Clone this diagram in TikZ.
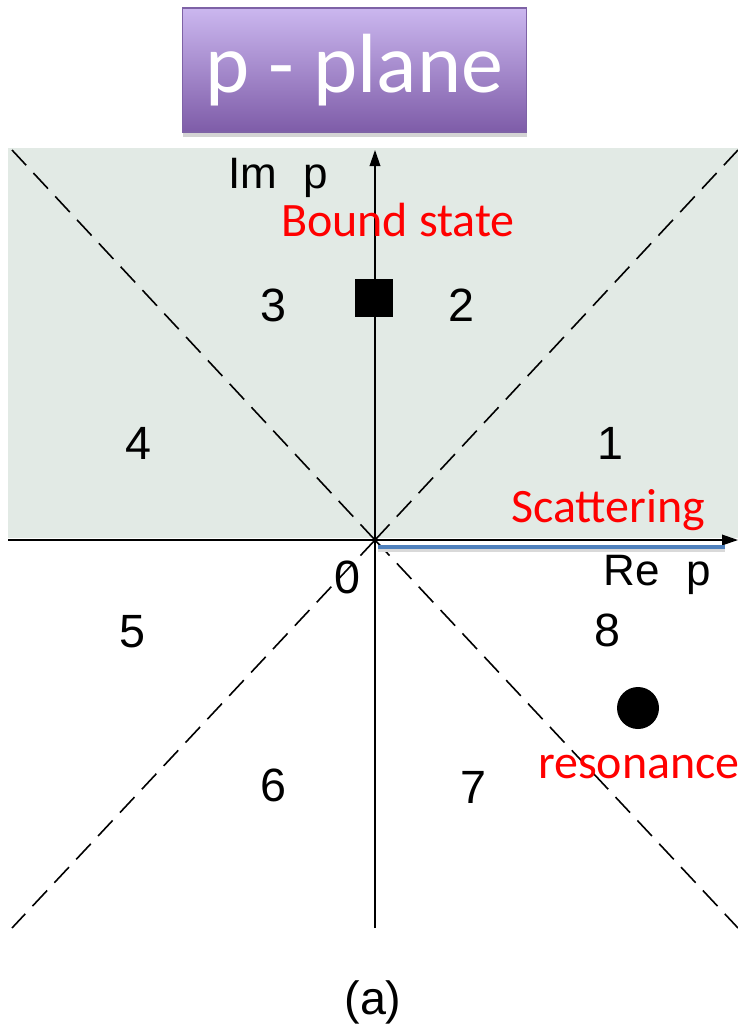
\documentclass[tikz,border=0pt]{standalone}
\usepackage{fontspec}
\setmainfont{Liberation Sans}
\newfontfamily\calibrifont{Carlito}
\usetikzlibrary{arrows.meta,shadows}
\definecolor{planegreen}{RGB}{226,234,229}
\definecolor{titletop}{RGB}{203,183,239}
\definecolor{titlebottom}{RGB}{126,92,168}
\definecolor{titleborder}{RGB}{126,98,166}
\definecolor{scatblue}{RGB}{79,129,189}
\begin{document}
\begin{tikzpicture}[x=0.75pt, y=-0.75pt]
  % Define region, axis and label styles
  \tikzstyle{axisline} = [draw=black, line width=1pt, -{Triangle[length=12pt,width=8pt]}]
  \tikzstyle{quadline} = [draw=black, line width=1.2pt, dash pattern=on 16pt off 8pt]
  \tikzstyle{regionnum} = [font=\fontsize{35}{38}\selectfont, inner sep=0pt]
  \tikzstyle{axislabel} = [font=\fontsize{33}{36}\selectfont, inner sep=0pt]
  \tikzstyle{redlabel} = [text=red, font=\calibrifont\fontsize{36}{40}\selectfont, inner sep=0pt]
  \tikzstyle{titlebox} = [draw=titleborder, line width=0.8pt, top color=titletop,
  bottom color=titlebottom, text=white, minimum width=258pt, minimum height=93pt,
  font=\calibrifont\fontsize{63}{66}\selectfont, inner sep=0pt,
  drop shadow={shadow xshift=0pt, shadow yshift=-4pt, opacity=0.35}]

  \useasboundingbox (0,0) rectangle (738,1026);
  \fill[planegreen] (8,148) rectangle (738,538);

  % corners of the dashed diagonals
  \coordinate (O) at (375,540);
  \coordinate (ul) at (12,150);
  \coordinate (ur) at (738,150);
  \coordinate (ll) at (12,928);
  \coordinate (lr) at (738,928);
  \draw[quadline] (O) -- (ul);
  \draw[quadline] (O) -- (ur);
  \draw[quadline] (O) -- (ll);
  \draw[quadline] (O) -- (lr);

  % axes
  \coordinate (xstart) at (8,540);
  \coordinate (xend) at (738,540);
  \coordinate (ystart) at (375,928);
  \coordinate (yend) at (375,150);
  \draw[axisline] (xstart) -- (xend);
  \draw[axisline] (ystart) -- (yend);

  % scattering cut on the real axis
  \coordinate (cutstart) at (378,547);
  \coordinate (cutend) at (725,547);
  \draw[black!15, line width=3pt] ([yshift=-2.5pt]cutstart) -- ([yshift=-2.5pt]cutend);
  \draw[scatblue, line width=3.5pt] (cutstart) -- (cutend);

  \node[titlebox] (title) at (354.5,70) {p - plane};

  \node[axislabel] (imp) at (278,178) {Im\hspace{0.6em}p};
  \node[axislabel] (rep) at (657,575) {Re\hspace{0.6em}p};
  \node[regionnum] (zero) at (347,577) {0};
  \node[regionnum] (r1) at (610,443) {1};
  \node[regionnum] (r2) at (461,305) {2};
  \node[regionnum] (r3) at (273,305) {3};
  \node[regionnum] (r4) at (138,443) {4};
  \node[regionnum] (r5) at (132,632) {5};
  \node[regionnum] (r6) at (273,785) {6};
  \node[regionnum] (r7) at (473,787) {7};
  \node[regionnum] (r8) at (607,630) {8};

  \node[fill=black, minimum size=28.5pt, inner sep=0pt] (bound) at (374,298) {};
  \node[fill=black, circle, minimum size=31.5pt, inner sep=0pt] (reson) at (638,708) {};

  \node[redlabel] (boundlbl) at (398,220) {Bound state};
  \node[redlabel] (scatlbl) at (608,510) {Scattering};
  \node[redlabel] (resonlbl) at (639,767) {resonance};

  \node[regionnum] (caption) at (373,1002) {(a)};
\end{tikzpicture}
\end{document}
